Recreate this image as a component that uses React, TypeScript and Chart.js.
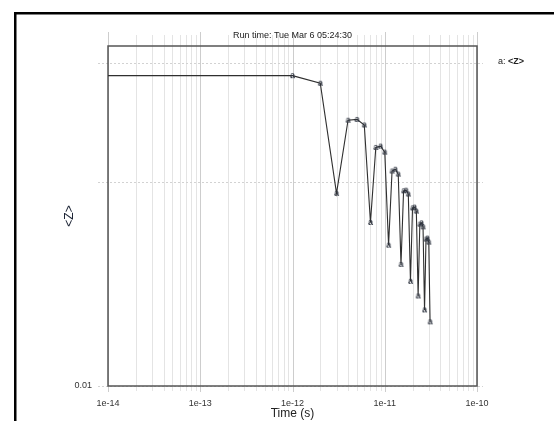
import { useEffect, useRef } from 'react';
import { Chart, registerables } from 'chart.js';

Chart.register(...registerables);

// Time in seconds (first point is t = 0, placed off-scale on the log axis)
const timeSeconds = [
  1e-15, 1e-12, 2e-12, 3e-12, 4e-12, 5e-12, 6e-12, 7e-12, 8e-12, 9e-12,
  1e-11, 1.1e-11, 1.2e-11, 1.3e-11, 1.4e-11, 1.5e-11, 1.6e-11, 1.7e-11, 1.8e-11, 1.9e-11,
  2e-11, 2.1e-11, 2.2e-11, 2.3e-11, 2.4e-11, 2.5e-11, 2.6e-11, 2.7e-11, 2.8e-11, 2.9e-11,
  3e-11, 3.1e-11,
];
const zValues = [
  0.0914, 0.0914, 0.0866, 0.0395, 0.0665, 0.0669, 0.0643, 0.0321, 0.0548, 0.0553,
  0.053, 0.0273, 0.0463, 0.0469, 0.0453, 0.0238, 0.0402, 0.0404, 0.0393, 0.0211,
  0.0356, 0.0358, 0.0348, 0.019, 0.0317, 0.032, 0.0311, 0.0172, 0.0285, 0.0287,
  0.0279, 0.0158,
];
const xTickValues = [1e-14, 1e-13, 1e-12, 1e-11, 1e-10];
const xTickLabels = ['1e-14', '1e-13', '1e-12', '1e-11', '1e-10'];
const xMinorFactors = [2, 3, 4, 5, 6, 7, 8, 9];
const yTickValues = [0.01, 0.0428, 0.1];
const yTickLabels = ['0.01', '', ''];
const yMin = 0.01;
const yMax = 0.1129;
const titleText = 'Run time: Tue Mar 6 05:24:30';
const seriesName = '<Z>';
const FONT = '"Liberation Sans", Arial, Helvetica, sans-serif';

function makeMarker(): HTMLCanvasElement {
  const c = document.createElement('canvas');
  c.width = 9;
  c.height = 9;
  const g = c.getContext('2d')!;
  g.font = `bold 9px ${FONT}`;
  g.fillStyle = '#2e3440';
  g.textAlign = 'center';
  g.textBaseline = 'middle';
  g.fillText('a', 4.5, 4.6);
  return c;
}

const decorPlugin = {
  id: 'decor',
  beforeDatasetsDraw(chart: any) {
    const { ctx, chartArea } = chart;
    const xs = chart.scales.x;
    const ys = chart.scales.y;
    const { left, right, top, bottom } = chartArea;
    ctx.save();
    // vertical minor grid
    ctx.lineWidth = 1;
    ctx.strokeStyle = '#e4e4e4';
    for (let i = 0; i < xTickValues.length - 1; i++) {
      for (const f of xMinorFactors) {
        const px = Math.round(xs.getPixelForValue(xTickValues[i] * f)) + 0.5;
        ctx.beginPath();
        ctx.moveTo(px, top - 11);
        ctx.lineTo(px, bottom + 5);
        ctx.stroke();
      }
    }
    // vertical major grid
    ctx.strokeStyle = '#cdcdcd';
    for (const v of xTickValues) {
      const px = Math.round(xs.getPixelForValue(v)) + 0.5;
      ctx.beginPath();
      ctx.moveTo(px, top - 14);
      ctx.lineTo(px, bottom + 6);
      ctx.stroke();
    }
    // horizontal dotted grid
    ctx.strokeStyle = '#d2d2d2';
    ctx.setLineDash([2, 2]);
    for (const v of yTickValues) {
      const py = Math.round(ys.getPixelForValue(v)) + 0.5;
      ctx.beginPath();
      ctx.moveTo(left - 10, py);
      ctx.lineTo(right + 6, py);
      ctx.stroke();
    }
    ctx.setLineDash([]);
    // plot border
    ctx.strokeStyle = '#555555';
    ctx.lineWidth = 1.5;
    ctx.strokeRect(left, top, right - left, bottom - top);
    ctx.restore();
  },
  afterDraw(chart: any) {
    const { ctx, chartArea } = chart;
    ctx.save();
    // outer frame
    ctx.fillStyle = '#000';
    ctx.fillRect(14, 12, chart.width - 14, 2.5);
    ctx.fillRect(14, 12, 2.5, chart.height - 12);
    // title
    ctx.fillStyle = '#222';
    ctx.font = `9px ${FONT}`;
    ctx.textAlign = 'center';
    ctx.textBaseline = 'middle';
    ctx.fillText(titleText, (chartArea.left + chartArea.right) / 2, 36);
    // legend
    ctx.textAlign = 'left';
    const lx = chartArea.right + 21;
    const ly = 62;
    ctx.fillText('a: ', lx, ly);
    const w = ctx.measureText('a: ').width;
    ctx.font = `bold 9px ${FONT}`;
    ctx.fillText(seriesName, lx + w, ly);
    ctx.restore();
  },
};

export default function App() {
  const ref = useRef<HTMLCanvasElement | null>(null);
  useEffect(() => {
    if (!ref.current) return;
    const marker = makeMarker();
    const chart = new Chart(ref.current, {
      type: 'line',
      data: {
        datasets: [
          {
            label: seriesName,
            data: timeSeconds.map((t, i) => ({ x: t, y: zValues[i] })),
            borderColor: '#2f2f2f',
            borderWidth: 1.1,
            pointStyle: marker as any,
            pointRadius: 4,
            tension: 0,
            fill: false,
          },
        ],
      },
      options: {
        animation: false,
        responsive: false,
        devicePixelRatio: 1,
        events: [],
        layout: { padding: { left: 0, top: 46, right: 77, bottom: 0 } },
        plugins: {
          legend: { display: false },
          title: { display: false },
          tooltip: { enabled: false },
        },
        scales: {
          x: {
            type: 'logarithmic',
            position: 'bottom',
            min: 1e-14,
            max: 1e-10,
            grid: { display: false, drawTicks: false },
            border: { display: false },
            afterBuildTicks: (scale: any) => {
              scale.ticks = xTickValues.map((v) => ({ value: v }));
            },
            afterFit: (scale: any) => {
              scale.height = 35;
            },
            ticks: {
              autoSkip: false,
              maxRotation: 0,
              padding: 12,
              color: '#333',
              font: { family: FONT, size: 9 },
              callback: (_v: any, i: number) => xTickLabels[i] ?? '',
            },
            title: {
              display: true,
              text: 'Time (s)',
              color: '#222',
              font: { family: FONT, size: 12 },
              padding: { top: 0, bottom: 0 },
            },
          },
          y: {
            type: 'logarithmic',
            position: 'left',
            min: yMin,
            max: yMax,
            grid: { display: false, drawTicks: false },
            border: { display: false },
            afterBuildTicks: (scale: any) => {
              scale.ticks = yTickValues.map((v) => ({ value: v }));
            },
            afterFit: (scale: any) => {
              scale.width = 108;
            },
            ticks: {
              autoSkip: false,
              padding: 16,
              color: '#333',
              font: { family: FONT, size: 9 },
              callback: (_v: any, i: number) => yTickLabels[i] ?? '',
            },
            title: {
              display: true,
              text: '<Z>',
              color: '#1a2233',
              font: { family: FONT, size: 12 },
              padding: { top: 62, bottom: 0 },
            },
          },
        },
      },
      plugins: [decorPlugin],
    });
    return () => chart.destroy();
  }, []);
  return (
    <canvas
      ref={ref}
      width={554}
      height={421}
      style={{ position: 'fixed', left: 0, top: 0, width: 554, height: 421, background: '#fff' }}
    />
  );
}
